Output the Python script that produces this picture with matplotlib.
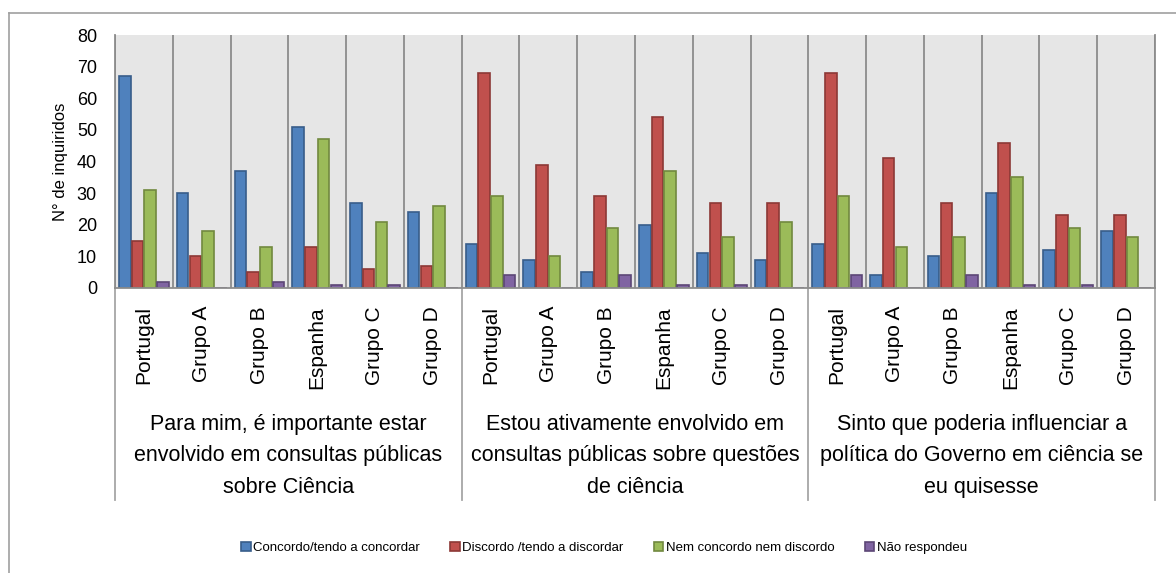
import numpy as np
import matplotlib
matplotlib.use('Agg')
import matplotlib.pyplot as plt
from matplotlib.lines import Line2D
from matplotlib.transforms import blended_transform_factory

plt.rcParams['font.family'] = ['Liberation Sans', 'DejaVu Sans']

# categories (same six per question)
groups = ['Portugal', 'Grupo A', 'Grupo B', 'Espanha', 'Grupo C', 'Grupo D']
questions = ['Para mim, é importante estar\nenvolvido em consultas públicas\nsobre Ciência',
             'Estou ativamente envolvido em\nconsultas públicas sobre questões\nde ciência',
             'Sinto que poderia influenciar a\npolítica do Governo em ciência se\neu quisesse']

# answers per question, six groups each
concordo  = [67, 30, 37, 51, 27, 24,  14,  9,  5, 20, 11,  9,  14,  4, 10, 30, 12, 18]
discordo  = [15, 10,  5, 13,  6,  7,  68, 39, 29, 54, 27, 27,  68, 41, 27, 46, 23, 23]
nem       = [31, 18, 13, 47, 21, 26,  29, 10, 19, 37, 16, 21,  29, 13, 16, 35, 19, 16]
nao_resp  = [ 2,  0,  2,  1,  1,  0,   4,  0,  4,  1,  1,  0,   4,  0,  4,  1,  1,  0]

series = [concordo, discordo, nem, nao_resp]
labels = ['Concordo/tendo a concordar', 'Discordo /tendo a discordar',
          'Nem concordo nem discordo', 'Não respondeu']
colours = ['#4f81bd', '#c0504d', '#9bbb59', '#8064a2']
edges = ['#385d8a', '#8c3836', '#71893f', '#5c4776']

W, H = 1176, 573
fig = plt.figure(figsize=(W/100., H/100.), dpi=100)
ax = fig.add_axes([115./W, 1-288./H, 1040./W, 253./H])
ax.set_facecolor('#e6e6e6')

n = len(concordo)
x = np.arange(n)
step, bw = 0.22, 0.2
for k in range(4):
  ax.bar(x + (k-1.5)*step, series[k], width=bw, color=colours[k], edgecolor=edges[k],
         linewidth=1.2, label=labels[k], zorder=2)

ax.set_xlim(-0.5, n-0.5)
ax.set_ylim(0, 80)
ax.set_yticks(range(0, 81, 10))
ax.set_xticks(x)
ax.set_xticklabels(groups*3, rotation=90, va='top', fontsize=15)
ax.set_xticks(np.arange(-0.5, n, 1), minor=True)
ax.grid(which='minor', axis='x', color='#8c8c8c', linewidth=1.3, zorder=1)
ax.tick_params(axis='x', which='both', length=0, pad=13)
ax.tick_params(axis='y', length=0, pad=13, labelsize=13)
ax.spines['top'].set_visible(False)
for sp in ['left', 'bottom', 'right']:
  ax.spines[sp].set_color('#8c8c8c')
  ax.spines[sp].set_linewidth(1.3)
ax.set_ylabel('N° de inquiridos', fontsize=12, labelpad=6)

# second level of the category axis
tr = blended_transform_factory(ax.transData, ax.transAxes)
for b in [-0.5, 5.5, 11.5, 17.5]:
  ax.add_line(Line2D([b, b], [0, -212./253], transform=tr, color='#a6a6a6',
                     linewidth=1.3, clip_on=False))
for i, q in enumerate(questions):
  ax.text(i*6 + 2.5, -168./253, q, transform=tr, ha='center', va='center',
          fontsize=15.5, linespacing=1.66)

# outer chart frame
fig.add_artist(Line2D([9./W, 9./W], [0, 1-13./H], color='#a0a0a0', linewidth=1.2))
fig.add_artist(Line2D([9./W, 1], [1-13./H, 1-13./H], color='#a0a0a0', linewidth=1.2))

fig.legend(loc='center', bbox_to_anchor=(604./W, 1-548./H), ncol=4, frameon=False,
           fontsize=9.5, handlelength=0.7, handleheight=0.7, handletextpad=0.2,
           columnspacing=2.3)

plt.savefig('out.png', dpi=100)
